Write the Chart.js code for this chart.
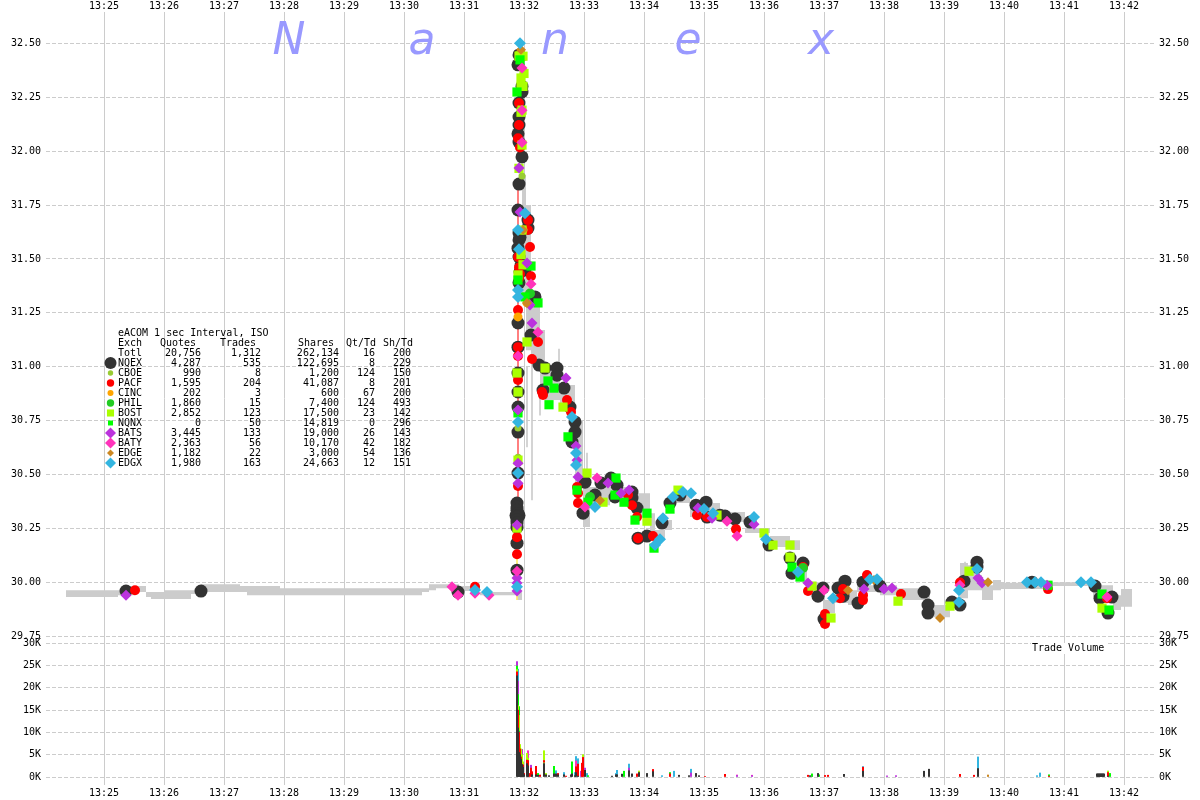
<!DOCTYPE html>
<html>
<head>
<meta charset="utf-8">
<title>eACOM 1 sec Interval, ISO</title>
<script src="https://cdn.jsdelivr.net/npm/chart.js@4/dist/chart.umd.min.js"></script>
<style>
    body { margin: 0; background: #fff; }
    canvas { display: block; }
</style>
</head>
<body>
<canvas id="tradeChart" width="1200" height="800"></canvas>
<script>
// Axis ticks. Time is seconds after 13:25
const minuteTicks = [0, 60, 120, 180, 240, 300, 360, 420, 480, 540, 600, 660, 720, 780, 840, 900, 960, 1020];
const minuteLabels = ['13:25', '13:26', '13:27', '13:28', '13:29', '13:30', '13:31', '13:32', '13:33', '13:34', '13:35', '13:36', '13:37', '13:38', '13:39', '13:40', '13:41', '13:42'];
const priceTicks = [29.75, 30, 30.25, 30.5, 30.75, 31, 31.25, 31.5, 31.75, 32, 32.25, 32.5];
const volumeTicks = [0, 5000, 10000, 15000, 20000, 25000, 30000];

// NBBO band
const bandTimes = [-38, 14, 23, 31, 42, 47, 60, 87, 97, 136, 143, 176, 318, 325, 332, 355, 376, 413, 418, 422, 427, 431, 436, 441, 456, 471, 479, 486, 506, 531, 546, 551, 561, 568, 586, 616, 641, 666, 686, 696, 703, 719, 731, 744, 753, 776, 793, 826, 846, 856, 864, 876, 878, 889, 897, 933, 946, 989, 1009, 1017, 1028];
const bandHigh = [29.964, 29.964, 29.983, 29.983, 29.955, 29.955, 29.964, 29.964, 29.992, 29.983, 29.983, 29.973, 29.973, 29.992, 29.992, 29.983, 29.955, 29.955, 31.889, 31.75, 31.309, 31.277, 31.17, 31.008, 30.915, 30.753, 30.442, 30.442, 30.442, 30.414, 30.321, 30.243, 30.289, 30.419, 30.368, 30.326, 30.252, 30.215, 30.196, 30.094, 30.001, 29.918, 29.955, 29.964, 29.987, 29.987, 29.973, 29.895, 29.927, 30.09, 30.08, 30.034, 29.987, 30.011, 29.999, 29.992, 30.001, 29.987, 29.941, 29.969, 29.969];
const bandLow = [29.932, 29.941, 29.941, 29.955, 29.932, 29.923, 29.923, 29.946, 29.955, 29.955, 29.941, 29.941, 29.955, 29.964, 29.973, 29.96, 29.941, 29.918, 31.309, 31.077, 31.008, 31.031, 30.869, 30.846, 30.8, 30.451, 30.257, 30.358, 30.382, 30.303, 30.229, 30.196, 30.243, 30.368, 30.303, 30.28, 30.229, 30.164, 30.15, 30.001, 29.941, 29.858, 29.904, 29.895, 29.955, 29.941, 29.918, 29.839, 29.881, 29.927, 29.964, 29.964, 29.918, 29.964, 29.969, 29.969, 29.983, 29.936, 29.872, 29.887, 29.887];

// thin quote wicks: [time, low, high]
const grayWicks = [[423, 30.628, 30.999], [428, 30.382, 31.045], [436, 30.776, 30.869], [455, 30.971, 31.082], [483, 30.507, 30.6], [861, 29.964, 30.094]];
const redWick = [[414, 30.2, 31.82]];
const yellowWick = [[413, 29.92, 30.15]];

// trades by exchange: [time, price]
const nqexTrades = [[22, 29.96], [97, 29.96], [354, 29.955], [415, 32.446], [414, 32.4], [418, 32.3], [418, 32.274], [415, 32.223], [415, 32.158], [415, 32.121], [414, 32.08], [415, 32.042], [418, 31.973], [415, 31.847], [414, 31.727], [424, 31.68], [424, 31.643], [415, 31.62], [416, 31.6], [415, 31.588], [414, 31.55], [415, 31.509], [417, 31.47], [421, 31.449], [416, 31.44], [415, 31.39], [431, 31.324], [414, 31.203], [427, 31.147], [414, 31.091], [414, 30.971], [414, 30.883], [414, 30.813], [414, 30.697], [414, 30.507], [413, 30.368], [413, 30.35], [413, 30.335], [414, 30.32], [412, 30.31], [415, 30.31], [413, 30.303], [413, 30.29], [413, 30.275], [413, 30.256], [413, 30.182], [413, 30.057], [435, 31.008], [441, 30.994], [453, 30.994], [453, 30.961], [439, 30.892], [460, 30.901], [466, 30.813], [471, 30.744], [471, 30.697], [468, 30.651], [481, 30.465], [479, 30.321], [491, 30.405], [497, 30.461], [507, 30.484], [513, 30.451], [511, 30.396], [528, 30.419], [528, 30.391], [533, 30.345], [534, 30.205], [543, 30.215], [558, 30.275], [566, 30.368], [576, 30.405], [592, 30.358], [602, 30.372], [603, 30.303], [616, 30.312], [621, 30.308], [631, 30.294], [646, 30.28], [665, 30.173], [686, 30.113], [688, 30.043], [699, 30.09], [714, 29.936], [719, 29.974], [720, 29.83], [741, 30.006], [734, 29.974], [739, 29.936], [754, 29.904], [759, 30.001], [776, 29.983], [820, 29.955], [824, 29.895], [824, 29.858], [848, 29.909], [856, 29.895], [860, 30.006], [873, 30.094], [873, 30.071], [928, 30.001], [991, 29.983], [996, 29.927], [1008, 29.932], [1004, 29.858]];
const cboeTrades = [[418, 31.885], [414, 30.716], [414, 30.58], [413, 30.127]];
const pacfTrades = [[31, 29.964], [371, 29.98], [418, 32.437], [415, 32.223], [415, 32.121], [414, 32.06], [416, 32.017], [424, 31.68], [426, 31.555], [424, 31.634], [414, 31.509], [415, 31.46], [416, 31.43], [427, 31.42], [415, 31.41], [414, 31.263], [414, 31.091], [434, 31.115], [428, 31.036], [414, 31.05], [414, 30.939], [414, 30.447], [413, 30.21], [413, 30.131], [439, 30.869], [438, 30.883], [463, 30.846], [467, 30.79], [473, 30.442], [474, 30.414], [474, 30.368], [533, 30.303], [534, 30.205], [549, 30.215], [593, 30.312], [603, 30.303], [632, 30.247], [524, 30.405], [528, 30.358], [699, 30.071], [704, 29.96], [721, 29.853], [721, 29.807], [736, 29.927], [739, 29.969], [759, 29.941], [759, 29.918], [763, 30.034], [797, 29.946], [944, 29.969], [1003, 29.927], [856, 30]];
const cincTrades = [[414, 31.231], [419, 31.634], [423, 31.296]];
const philTrades = [[421, 31.473], [426, 31.34], [486, 30.396], [699, 30.067]];
const bostTrades = [[415, 32.44], [416, 32.442], [419, 32.44], [420, 32.36], [417, 32.339], [417, 32.3], [419, 32.3], [418, 32.19], [417, 32.18], [418, 32.028], [415, 31.92], [417, 31.52], [419, 31.473], [414, 31.426], [418, 31.634], [413, 30.971], [423, 31.115], [414, 30.883], [414, 30.567], [413, 30.252], [441, 30.994], [459, 30.813], [483, 30.507], [499, 30.372], [543, 30.284], [574, 30.428], [613, 30.312], [660, 30.229], [669, 30.173], [686, 30.173], [686, 30.117], [708, 29.983], [727, 29.835], [794, 29.913], [846, 29.89], [865, 30.052], [998, 29.881]];
const nqnxTrades = [[416, 32.423], [414, 31.402], [427, 31.467], [421, 31.324], [434, 31.296], [413, 32.274], [414, 30.786], [445, 30.824], [450, 30.901], [444, 30.934], [464, 30.675], [473, 30.428], [484, 30.372], [512, 30.484], [511, 30.405], [520, 30.372], [543, 30.321], [550, 30.159], [566, 30.34], [531, 30.289], [688, 30.071], [696, 30.025], [998, 29.946], [1005, 29.872], [944, 29.987]];
const batsTrades = [[22, 29.94], [415, 31.922], [428, 31.203], [416, 31.718], [426, 31.286], [423, 31.481], [414, 30.8], [414, 30.553], [414, 30.46], [413, 30.266], [413, 30.02], [413, 29.997], [413, 29.96], [462, 30.948], [472, 30.632], [473, 30.567], [474, 30.489], [504, 30.461], [517, 30.414], [525, 30.428], [608, 30.298], [594, 30.345], [650, 30.27], [704, 29.997], [760, 29.969], [780, 29.969], [788, 29.974], [943, 29.987], [874, 30.02], [878, 29.997]];
const batyTrades = [[348, 29.98], [354, 29.94], [371, 29.95], [385, 29.94], [418, 32.385], [418, 32.19], [418, 32.04], [427, 31.384], [434, 31.16], [414, 31.05], [413, 30.052], [481, 30.35], [493, 30.484], [623, 30.284], [633, 30.215], [720, 29.964], [856, 29.987], [1003, 29.932]];
const edgeTrades = [[417, 32.47], [423, 31.296], [419, 31.634], [496, 30.38], [744, 29.964], [770, 30.011], [836, 29.835], [884, 30.001]];
const edgxTrades = [[371, 29.965], [383, 29.955], [416, 32.5], [414, 31.634], [415, 31.545], [414, 31.356], [414, 31.324], [421, 31.712], [414, 30.744], [414, 30.507], [413, 29.98], [472, 30.6], [472, 30.544], [491, 30.35], [468, 30.767], [556, 30.2], [551, 30.173], [559, 30.298], [569, 30.396], [579, 30.419], [587, 30.414], [600, 30.34], [609, 30.321], [650, 30.303], [662, 30.2], [694, 30.048], [729, 29.927], [766, 30.015], [773, 30.015], [855, 29.964], [855, 29.909], [873, 30.062], [923, 30.001], [931, 30.001], [937, 30.001], [977, 30.001], [987, 30.001]];

// volume by exchange: [time, shares]
const nqexVolume = [[413, 22700], [414, 11000], [415, 5500], [416, 5000], [417, 4000], [418, 2800], [419, 2200], [420, 500], [423, 3000], [424, 2500], [428, 500], [432, 500], [434, 400], [440, 3000], [442, 500], [445, 300], [450, 700], [452, 700], [454, 500], [460, 500], [467, 500], [468, 700], [471, 300], [472, 1000], [474, 200], [481, 1500], [508, 200], [512, 500], [513, 500], [518, 650], [525, 1400], [528, 700], [535, 1000], [543, 800], [549, 1200], [575, 400], [585, 300], [592, 800], [595, 300], [706, 300], [714, 800], [740, 600], [759, 1300], [820, 1300], [825, 1750], [874, 1900], [993, 700], [994, 700], [995, 700], [996, 700], [997, 700], [998, 700], [999, 700], [1000, 700], [1004, 200]];
const cboeVolume = [[440, 200], [535, 100]];
const pacfVolume = [[413, 900], [414, 4000], [415, 4500], [416, 1300], [417, 500], [419, 500], [420, 300], [423, 800], [424, 1200], [425, 800], [427, 2000], [428, 700], [432, 1900], [436, 450], [440, 500], [454, 300], [462, 200], [472, 1300], [474, 2700], [478, 3100], [479, 4400], [533, 700], [549, 500], [566, 700], [601, 100], [621, 600], [704, 400], [721, 350], [724, 400], [759, 900], [856, 600], [870, 400], [945, 200], [1004, 800]];
const cincVolume = [[418, 200]];
const philVolume = [[415, 300], [708, 200]];
const bostVolume = [[413, 500], [414, 1000], [415, 3500], [416, 1000], [417, 1800], [418, 2000], [419, 700], [423, 1500], [424, 500], [440, 2200], [442, 300], [479, 600], [535, 250], [1004, 350]];
const nqnxVolume = [[413, 800], [414, 2500], [415, 2000], [434, 400], [450, 1700], [468, 2700], [484, 300], [520, 1300], [566, 300], [708, 500], [715, 500], [945, 300], [1006, 800]];
const batsVolume = [[413, 1000], [414, 3000], [418, 1200], [427, 650], [477, 1300], [481, 500], [525, 600], [587, 900], [633, 350], [648, 300], [783, 250], [792, 300]];
const batyVolume = [[424, 1700], [472, 1300], [633, 100], [648, 100]];
const edgeVolume = [[884, 450]];
const edgxVolume = [[414, 2700], [452, 700], [460, 500], [471, 700], [472, 1000], [474, 1200], [483, 800], [512, 300], [513, 1000], [525, 900], [558, 300], [570, 1300], [587, 850], [759, 150], [874, 2600], [933, 300], [936, 900]];

// Table at the left
const legendExch = ['Totl', 'NQEX', 'CBOE', 'PACF', 'CINC', 'PHIL', 'BOST', 'NQNX', 'BATS', 'BATY', 'EDGE', 'EDGX'];
const legendQuotes = ['20,756', '4,287', '990', '1,595', '202', '1,860', '2,852', '0', '3,445', '2,363', '1,182', '1,980'];
const legendTrades = ['1,312', '535', '8', '204', '3', '15', '123', '50', '133', '56', '22', '163'];
const legendShares = ['262,134', '122,695', '1,200', '41,087', '600', '7,400', '17,500', '14,819', '19,000', '10,170', '3,000', '24,663'];
const legendQtTd = ['16', '8', '124', '8', '67', '124', '23', '0', '26', '42', '54', '12'];
const legendShTd = ['200', '229', '150', '201', '200', '493', '142', '296', '143', '182', '136', '151'];

const exchanges = [
    { name: 'NQEX', trades: nqexTrades, volume: nqexVolume, color: '#333333', style: 'circle', radius: 6.5, key: 6 },
    { name: 'CBOE', trades: cboeTrades, volume: cboeVolume, color: '#99cc33', style: 'circle', radius: 3.5, key: 2.7 },
    { name: 'PACF', trades: pacfTrades, volume: pacfVolume, color: '#ff0000', style: 'circle', radius: 5, key: 3.7 },
    { name: 'CINC', trades: cincTrades, volume: cincVolume, color: '#ffa500', style: 'circle', radius: 4.5, key: 3 },
    { name: 'PHIL', trades: philTrades, volume: philVolume, color: '#22cc22', style: 'circle', radius: 5, key: 3.7 },
    { name: 'BOST', trades: bostTrades, volume: bostVolume, color: '#aaff00', style: 'rect', radius: 6.5, key: 5 },
    { name: 'NQNX', trades: nqnxTrades, volume: nqnxVolume, color: '#00ff00', style: 'rect', radius: 6.5, key: 3.5 },
    { name: 'BATS', trades: batsTrades, volume: batsVolume, color: '#bb33dd', style: 'rectRot', radius: 5.5, key: 5.5 },
    { name: 'BATY', trades: batyTrades, volume: batyVolume, color: '#ff33bb', style: 'rectRot', radius: 5.5, key: 5.5 },
    { name: 'EDGE', trades: edgeTrades, volume: edgeVolume, color: '#cc8822', style: 'rectRot', radius: 5, key: 3.5 },
    { name: 'EDGX', trades: edgxTrades, volume: edgxVolume, color: '#33b5e0', style: 'rectRot', radius: 6, key: 5.5 }
];

const monoFont = { family: "'DejaVu Sans Mono'", size: 10 };
const gridColor = '#cccccc';
const timeRange = { min: -58, max: 1050 };
const priceRange = { min: 29.733, max: 32.645 };
const volumeRange = { min: -1795, max: 30745 };

function toPoints(pairs) {
    return pairs.map(p => ({ x: p[0], y: p[1] }));
}

function wickDataset(wicks, color) {
    return {
        type: 'bar',
        data: wicks.map(w => ({ x: w[0], y: [w[1], w[2]] })),
        yAxisID: 'y',
        backgroundColor: color,
        barThickness: 1,
        grouped: false,
        order: 90
    };
}

const datasets = [
    {
        type: 'line',
        data: bandTimes.map((t, i) => ({ x: t, y: bandHigh[i] })),
        yAxisID: 'y',
        stepped: true,
        fill: '+1',
        backgroundColor: '#cccccc',
        borderWidth: 0,
        pointRadius: 0,
        order: 100
    },
    {
        type: 'line',
        data: bandTimes.map((t, i) => ({ x: t, y: bandLow[i] })),
        yAxisID: 'y',
        stepped: true,
        fill: false,
        borderWidth: 0,
        pointRadius: 0,
        order: 100
    },
    wickDataset(grayWicks, '#cccccc'),
    wickDataset(redWick, '#ff6666'),
    wickDataset(yellowWick, '#ffee66')
];

exchanges.forEach((ex, i) => {
    datasets.push({
        type: 'scatter',
        label: ex.name,
        data: toPoints(ex.trades),
        yAxisID: 'y',
        pointStyle: ex.style,
        pointRadius: ex.radius,
        pointBackgroundColor: ex.color,
        pointBorderWidth: 0,
        order: 40 - i
    });
    datasets.push({
        type: 'bar',
        label: ex.name + ' volume',
        data: toPoints(ex.volume),
        yAxisID: 'v',
        backgroundColor: ex.color,
        barThickness: 1.4,
        grouped: false,
        order: 50 + i
    });
});

// Title, table and label drawn on top of the grid
const chartText = {
    id: 'chartText',
    beforeDatasetsDraw(chart) {
        const ctx = chart.ctx;
        ctx.save();
        ctx.fillStyle = '#9999ff';
        ctx.font = "italic 44px 'DejaVu Sans'";
        ctx.textAlign = 'center';
        ctx.textBaseline = 'middle';
        ['N', 'a', 'n', 'e', 'x'].forEach((letter, i) => {
            ctx.fillText(letter, 289 + i * 133, 43);
        });
        ctx.restore();
    },
    afterDraw(chart) {
        const ctx = chart.ctx;
        ctx.save();
        ctx.font = "10px 'DejaVu Sans Mono'";
        ctx.textBaseline = 'middle';

        ctx.fillStyle = '#fff';
        ctx.fillRect(1031, 643, 75, 11);
        ctx.fillStyle = '#000';
        ctx.textAlign = 'left';
        ctx.fillText('Trade Volume', 1032, 648);

        ctx.fillText('eACOM 1 sec Interval, ISO', 118, 333);
        ctx.fillText('Exch', 118, 343);
        ctx.fillText('Quotes', 160, 343);
        ctx.fillText('Trades', 220, 343);
        ctx.fillText('Shares', 298, 343);
        ctx.fillText('Qt/Td', 346, 343);
        ctx.fillText('Sh/Td', 383, 343);

        legendExch.forEach((name, i) => {
            const y = 353 + i * 10;
            ctx.textAlign = 'left';
            ctx.fillText(name, 118, y);
            ctx.textAlign = 'right';
            ctx.fillText(legendQuotes[i], 201, y);
            ctx.fillText(legendTrades[i], 261, y);
            ctx.fillText(legendShares[i], 339, y);
            ctx.fillText(legendQtTd[i], 375, y);
            ctx.fillText(legendShTd[i], 411, y);
            const ex = exchanges.find(e => e.name === name);
            if (ex) {
                ctx.fillStyle = ex.color;
                Chart.helpers.drawPoint(ctx, { pointStyle: ex.style, radius: ex.key, rotation: 0, borderWidth: 0 }, 110.5, y);
                ctx.fillStyle = '#000';
            }
        });
        ctx.restore();
    }
};

function fixedTicks(values) {
    return function(scale) {
        scale.ticks = values.map(v => ({ value: v }));
    };
}

function priceAxis(position, stack, weight, showGrid) {
    return {
        type: 'linear',
        axis: 'y',
        position: position,
        stack: stack,
        stackWeight: 628,
        weight: weight,
        min: priceRange.min,
        max: priceRange.max,
        afterBuildTicks: fixedTicks(priceTicks),
        afterFit(scale) { scale.width = 46; },
        border: { display: false, dash: [4, 2] },
        grid: { display: showGrid, color: gridColor, drawTicks: false },
        ticks: {
            autoSkip: false,
            padding: 5,
            color: '#000',
            font: monoFont,
            callback: v => v.toFixed(2)
        }
    };
}

function volumeAxis(position, stack, weight, showGrid) {
    return {
        type: 'linear',
        axis: 'y',
        position: position,
        stack: stack,
        stackWeight: 145,
        weight: weight,
        stacked: true,
        min: volumeRange.min,
        max: volumeRange.max,
        afterBuildTicks: fixedTicks(volumeTicks),
        afterFit(scale) { scale.width = 46; },
        border: { display: false, dash: [4, 2] },
        grid: { display: showGrid, color: gridColor, drawTicks: false },
        ticks: {
            autoSkip: false,
            padding: 5,
            color: '#000',
            font: monoFont,
            callback: v => (v / 1000) + 'K'
        }
    };
}

function timeAxis(position, height, padding, showGrid) {
    return {
        type: 'linear',
        axis: 'x',
        position: position,
        offset: false,
        min: timeRange.min,
        max: timeRange.max,
        afterBuildTicks: fixedTicks(minuteTicks),
        afterFit(scale) { scale.height = height; },
        border: { display: false },
        grid: { display: showGrid, offset: false, color: gridColor, drawTicks: false },
        ticks: {
            autoSkip: false,
            maxRotation: 0,
            padding: padding,
            color: '#000',
            font: monoFont,
            callback: (v, i) => minuteLabels[i]
        }
    };
}

new Chart(document.getElementById('tradeChart'), {
    type: 'line',
    data: { datasets: datasets },
    plugins: [chartText],
    options: {
        responsive: false,
        animation: false,
        events: [],
        layout: { padding: 0 },
        plugins: { legend: { display: false }, tooltip: { enabled: false } },
        scales: {
            x: timeAxis('bottom', 15, 2, true),
            xTop: timeAxis('top', 12, 0, false),
            y: priceAxis('left', 'left', 2, true),
            v: volumeAxis('left', 'left', 1, true),
            yRight: priceAxis('right', 'right', 1, false),
            vRight: volumeAxis('right', 'right', 2, false)
        }
    }
});
</script>
</body>
</html>
